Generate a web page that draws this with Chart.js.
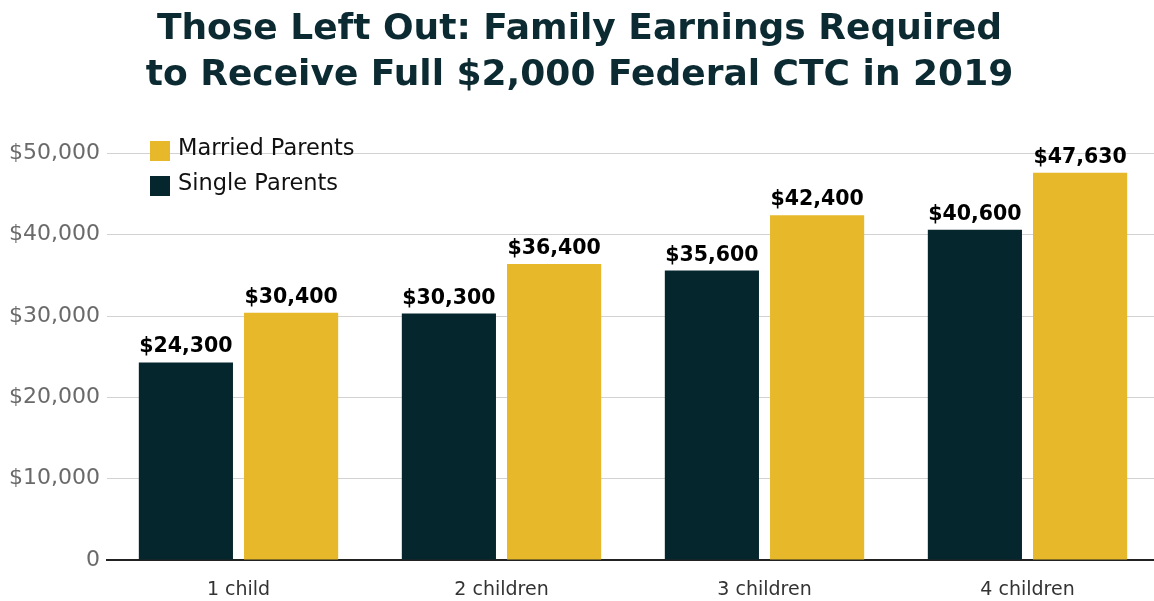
<!DOCTYPE html>
<html>
<head>
<meta charset="utf-8">
<script src="https://cdn.jsdelivr.net/npm/chart.js@4"></script>
<style>
  html, body { margin: 0; padding: 0; background: #fff; overflow: hidden; }
  #wrap { width: 1160px; height: 601px; }
</style>
</head>
<body>
<div id="wrap"><canvas id="ctc-chart" width="1160" height="601"></canvas></div>
<script>
// Data
const categories = ['1 child', '2 children', '3 children', '4 children'];
const singleParents = [24300, 30300, 35600, 40600];
const marriedParents = [30400, 36400, 42400, 47630];
const yTicks = [0, 10000, 20000, 30000, 40000, 50000];

const DARK = '#06262e';
const GOLD = '#e6b82a';
const FONT = "'DejaVu Sans', sans-serif";

const fmt = v => v === 0 ? '0' : '$' + v.toLocaleString('en-US');

// value labels above each bar
const barLabels = {
    id: 'barLabels',
    afterDatasetsDraw(chart) {
        const ctx = chart.ctx;
        ctx.save();
        ctx.font = 'bold 20.5px ' + FONT;
        ctx.fillStyle = '#000';
        ctx.textAlign = 'center';
        ctx.textBaseline = 'bottom';
        chart.data.datasets.forEach((ds, i) => {
            chart.getDatasetMeta(i).data.forEach((bar, j) => {
                ctx.fillText(fmt(ds.data[j]), bar.x, bar.y - 5);
            });
        });
        ctx.restore();
    }
};

// stacked legend in the top-left of the plot, married first
const sideLegend = {
    id: 'sideLegend',
    afterDraw(chart) {
        const ctx = chart.ctx;
        const x = chart.chartArea.left + 43;
        let y = 141;
        ctx.save();
        ctx.font = '22.5px ' + FONT;
        ctx.textBaseline = 'middle';
        ctx.textAlign = 'left';
        chart.data.datasets.slice().reverse().forEach(ds => {
            ctx.fillStyle = ds.backgroundColor;
            ctx.fillRect(x, y, 20, 20);
            ctx.fillStyle = '#111';
            ctx.fillText(ds.label, x + 28, y + 8);
            y += 35;
        });
        ctx.restore();
    }
};

new Chart(document.getElementById('ctc-chart'), {
    type: 'bar',
    data: {
        labels: categories,
        datasets: [
            { label: 'Single Parents', data: singleParents, backgroundColor: DARK },
            { label: 'Married Parents', data: marriedParents, backgroundColor: GOLD }
        ]
    },
    options: {
        responsive: false,
        animation: false,
        layout: { padding: { left: 0, right: 1, bottom: 0 } },
        datasets: { bar: { categoryPercentage: 0.8, barPercentage: 0.895 } },
        scales: {
            x: {
                afterFit: scale => { scale.height = 41; },
                grid: { display: false, drawTicks: false },
                border: { display: true, color: '#222', width: 2 },
                ticks: { color: '#333', padding: 19, font: { family: FONT, size: 19 } }
            },
            y: {
                min: 0,
                max: 50000,
                afterFit: scale => { scale.width = 107; },
                afterBuildTicks: scale => { scale.ticks = yTicks.map(v => ({ value: v })); },
                grid: { color: '#d2d2d2', lineWidth: 1, drawTicks: false },
                border: { display: false },
                ticks: {
                    color: '#6a6a6a',
                    padding: 7,
                    font: { family: FONT, size: 22 },
                    callback: v => fmt(v)
                }
            }
        },
        plugins: {
            legend: { display: false },
            tooltip: { enabled: false },
            title: {
                display: true,
                text: ['Those Left Out: Family Earnings Required', 'to Receive Full $2,000 Federal CTC in 2019'],
                color: '#0b2a31',
                font: { family: FONT, size: 36, weight: 'bold', lineHeight: 1.27 },
                padding: { top: 7, bottom: 55 }
            }
        }
    },
    plugins: [barLabels, sideLegend]
});
</script>
</body>
</html>
